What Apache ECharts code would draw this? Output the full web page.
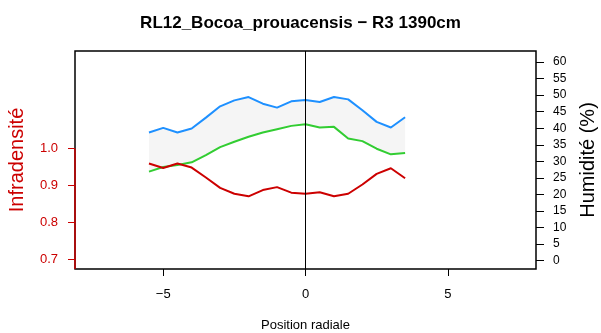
<!DOCTYPE html>
<html><head><meta charset="utf-8">
<script src="https://cdn.jsdelivr.net/npm/echarts@6/dist/echarts.min.js"></script>
<style>html,body{margin:0;padding:0;background:#fff}#c{width:601px;height:333px}</style>
</head><body><div id="c"></div>
<script>
const positions = [-5.5,-5,-4.5,-4,-3.5,-3,-2.5,-2,-1.5,-1,-0.5,0,0.5,1,1.5,2,2.5,3,3.5];
const infradensite = [0.960,0.948,0.960,0.949,0.922,0.894,0.878,0.871,0.888,0.896,0.881,0.878,0.882,0.871,0.878,0.903,0.932,0.947,0.920];
const humiditeHaute = [38.7,40.1,38.7,39.9,43.2,46.6,48.4,49.4,47.4,46.2,48.1,48.5,47.9,49.4,48.7,45.4,41.9,40.2,43.3];
const humiditeBasse = [26.9,28.3,28.9,29.7,31.9,34.3,35.9,37.4,38.7,39.7,40.7,41.2,40.2,40.4,36.9,36.1,33.8,32.1,32.5];
const xTicks = [-5,0,5];
const leftTicks = [0.7,0.8,0.9,1.0];
const rightTicks = [0,5,10,15,20,25,30,35,40,45,50,55,60];
const xRange = [-8.1,8.1];
const leftRange = [0.674,1.265];
const rightRange = [-2.5,63.3];

const FONT = '"Liberation Sans", Arial, Helvetica, sans-serif';
const RED = '#cc0000';
const pair = (xs, ys) => xs.map((x,i)=>[x, ys[i]]);

const chart = echarts.init(document.getElementById('c'), null, {renderer:'canvas'});
chart.setOption({
  animation:false,
  backgroundColor:'#fff',
  title:{text:'RL12_Bocoa_prouacensis \u2212 R3 1390cm', left:'center', top:10,
    textStyle:{fontFamily:FONT, fontWeight:'bold', fontSize:17, color:'#000'}},
  grid:{left:75, right:65, top:51, bottom:64, show:true, borderColor:'#000', borderWidth:1.5,
    backgroundColor:'transparent', outerBoundsMode:'none', containLabel:false},
  xAxis:{type:'value', min:xRange[0], max:xRange[1],
    name:'Position radiale', nameLocation:'middle', nameGap:50,
    nameTextStyle:{fontFamily:FONT, fontSize:13, color:'#000'},
    axisLine:{show:false, onZero:false},
    axisTick:{show:true, length:7, customValues:xTicks, lineStyle:{color:'#000', width:1}},
    axisLabel:{customValues:xTicks, margin:19, fontFamily:FONT, fontSize:13, color:'#000',
      formatter:v=> v<0 ? '\u2212'+Math.abs(v) : String(v)},
    splitLine:{show:false}},
  yAxis:[
    {type:'value', position:'left', min:leftRange[0], max:leftRange[1],
      name:'Infradensit\u00e9', nameLocation:'middle', nameGap:48, nameRotate:90,
      nameTextStyle:{fontFamily:FONT, fontSize:20, color:RED},
      axisLine:{show:false, onZero:false},
      axisTick:{show:true, length:7, customValues:leftTicks, lineStyle:{color:RED, width:1}},
      axisLabel:{customValues:leftTicks, margin:17, fontFamily:FONT, fontSize:13, color:RED,
        formatter:v=>v.toFixed(1)},
      splitLine:{show:false}},
    {type:'value', position:'right', min:rightRange[0], max:rightRange[1],
      name:'Humidit\u00e9 (%)', nameLocation:'middle', nameGap:42, nameRotate:90,
      nameTextStyle:{fontFamily:FONT, fontSize:20, color:'#000'},
      axisLine:{show:false, onZero:false},
      axisTick:{show:true, length:8, customValues:rightTicks, lineStyle:{color:'#000', width:1}},
      axisLabel:{customValues:rightTicks, margin:17, fontFamily:FONT, fontSize:12, color:'#000'},
      splitLine:{show:false}}
  ],
  series:[
    {name:'bande', type:'custom', xAxisIndex:0, yAxisIndex:1, silent:true, z:1,
      data:positions.map((x,i)=>[x, humiditeHaute[i], humiditeBasse[i]]),
      encode:{x:0, y:[1,2]},
      renderItem:(params, api)=>{
        if (params.dataIndex !== 0) return null;
        const up = positions.map((x,i)=>api.coord([x, humiditeHaute[i]]));
        const lo = positions.map((x,i)=>api.coord([x, humiditeBasse[i]])).reverse();
        return {type:'polygon', shape:{points:up.concat(lo)}, style:{fill:'#f5f5f5'}};
      }},
    {name:'Humidité haute', type:'line', yAxisIndex:1, data:pair(positions, humiditeHaute),
      symbol:'none', lineStyle:{color:'#1e90ff', width:2}, z:3},
    {name:'Humidité basse', type:'line', yAxisIndex:1, data:pair(positions, humiditeBasse),
      symbol:'none', lineStyle:{color:'#32cd32', width:2}, z:3},
    {name:'Infradensité', type:'line', yAxisIndex:0, data:pair(positions, infradensite),
      symbol:'none', lineStyle:{color:RED, width:2}, z:4,
      markLine:{silent:true, symbol:'none', label:{show:false},
        lineStyle:{color:'#000', width:1, type:'solid'}, data:[{xAxis:0}]}},
    {name:'axeInfra', type:'line', yAxisIndex:0, data:[[xRange[0], leftRange[0]],[xRange[0], leftTicks[leftTicks.length-1]]],
      symbol:'none', lineStyle:{color:RED, width:1.5}, clip:false, silent:true, z:6}
  ]
});
</script></body></html>
